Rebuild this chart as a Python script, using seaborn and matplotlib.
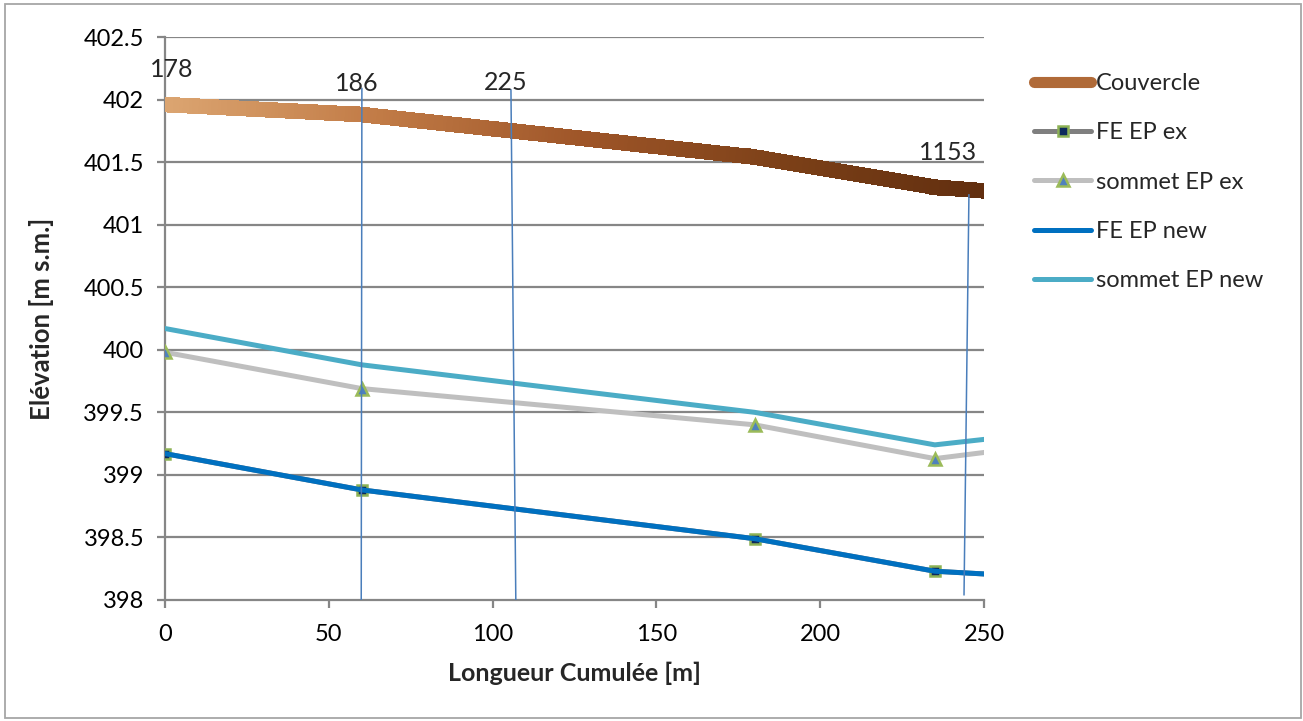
import numpy as np
import pandas as pd
import matplotlib
matplotlib.use('Agg')
import matplotlib.pyplot as plt
from matplotlib.collections import LineCollection
from matplotlib.colors import LinearSegmentedColormap
from matplotlib.lines import Line2D
from matplotlib.patches import Rectangle
import seaborn as sns

# cumulative length [m] of the profile points (last point lies past the axis end)
longueur = [0, 60, 180, 235, 290]

couvercle = [401.96, 401.88, 401.54, 401.30, 401.19]
fe_ep_ex = [399.17, 398.88, 398.49, 398.23, 398.15]
sommet_ep_ex = [399.98, 399.69, 399.40, 399.13, 399.31]
fe_ep_new = [399.17, 398.88, 398.49, 398.23, 398.15]
sommet_ep_new = [400.17, 399.88, 399.50, 399.24, 399.40]

series_names = ['Couvercle', 'FE EP ex', 'sommet EP ex', 'FE EP new', 'sommet EP new']

# manhole annotations: label, x at top, x at bottom, y at top
regard_labels = ['178', '186', '225', '1153']
regard_label_x = [2, 58.5, 104, 239]
regard_label_y = [402.24, 402.13, 402.14, 401.58]
regard_x_top = [None, 60.1, 105.6, 245.4]
regard_x_bot = [None, 59.9, 107.1, 243.9]
regard_y_top = [None, 402.09, 402.08, 401.24]
regard_y_bot = [None, 398.0, 397.96, 398.04]

yticks = [398, 398.5, 399, 399.5, 400, 400.5, 401, 401.5, 402, 402.5]
xticks = [0, 50, 100, 150, 200, 250]

sns.set_style('white')
plt.rcParams['font.family'] = ['Lato', 'DejaVu Sans']

W, H = 1303, 721
fig = plt.figure(figsize=(W / 100, H / 100), dpi=100)
ax = fig.add_axes([165 / W, 1 - 600 / H, (984 - 165) / W, (600 - 37) / H])

df = pd.DataFrame({'x': longueur, 'couv': couvercle, 'fe_ex': fe_ep_ex,
                   'som_ex': sommet_ep_ex, 'fe_new': fe_ep_new, 'som_new': sommet_ep_new})

grid_c = '#868686'
for yv in yticks[1:]:
    ax.axhline(yv, color=grid_c, lw=1.6, zorder=0)

# Couvercle: thick brown band with a light-to-dark gradient along x
sns.lineplot(data=df, x='x', y='couv', ax=ax, color='#A0592A', lw=10.5,
             solid_capstyle='butt', zorder=2)
xs = np.linspace(longueur[0], longueur[-1], 300)
ys = np.interp(xs, longueur, couvercle)
pts = np.column_stack([xs, ys]).reshape(-1, 1, 2)
segs = np.concatenate([pts[:-1], pts[1:]], axis=1)
cmap = LinearSegmentedColormap.from_list('couv', ['#DCA672', '#C27C47', '#9E5528', '#7A3F17', '#5E2C0E'])
lc = LineCollection(segs, cmap=cmap, norm=plt.Normalize(0, 260), lw=10.5,
                    capstyle='projecting', antialiased=False, zorder=3)
lc.set_array(xs[:-1])
ax.add_collection(lc)

# FE EP ex (hidden under FE EP new, markers visible)
sns.lineplot(data=df, x='x', y='fe_ex', ax=ax, color='#7F7F7F', lw=3.6,
             marker='s', markersize=7.5, markerfacecolor='#0D2A5C',
             markeredgecolor='#8DB255', markeredgewidth=1.8, zorder=4)
# sommet EP ex
sns.lineplot(data=df, x='x', y='som_ex', ax=ax, color='#BFBFBF', lw=3.6,
             marker='^', markersize=8, markerfacecolor='#4F81BD',
             markeredgecolor='#9BBB59', markeredgewidth=1.8, zorder=4)
# FE EP new
sns.lineplot(data=df, x='x', y='fe_new', ax=ax, color='#0070C0', lw=3.6, zorder=5)
# sommet EP new
sns.lineplot(data=df, x='x', y='som_new', ax=ax, color='#4BACC6', lw=3.6, zorder=5)

# manhole markers (hand drawn lines and labels)
for i, lab in enumerate(regard_labels):
    ax.text(regard_label_x[i], regard_label_y[i], lab, fontsize=18,
            ha='center', va='center', zorder=7, clip_on=False)
    if regard_x_top[i] is not None:
        ax.plot([regard_x_top[i], regard_x_bot[i]], [regard_y_top[i], regard_y_bot[i]],
                color='#4A7EBB', lw=1.1, zorder=6, clip_on=True)

ax.set_xlim(0, 250)
ax.set_ylim(398, 402.5)
ax.set_xticks(xticks)
ax.set_yticks(yticks)
ax.set_xticklabels([f'{v:g}' for v in xticks])
ax.set_yticklabels([f'{v:g}' for v in yticks])
ax.tick_params(axis='both', labelsize=17, colors=grid_c, labelcolor='black',
               length=6, width=1.6, direction='out', left=True, bottom=True)
ax.tick_params(axis='y', pad=9)
ax.tick_params(axis='x', pad=11)
for side in ['top', 'right']:
    ax.spines[side].set_visible(False)
for side in ['left', 'bottom']:
    ax.spines[side].set_color(grid_c)
    ax.spines[side].set_linewidth(1.6)
ax.set_xlabel('Longueur Cumulée [m]', fontsize=18, fontweight='bold', labelpad=12)
ax.set_ylabel('Elévation [m s.m.]', fontsize=18.5, fontweight='bold', labelpad=21)

handles = [
    Line2D([], [], color='#B06A38', lw=8, solid_capstyle='round'),
    Line2D([], [], color='#7F7F7F', lw=3.6, marker='s', markersize=7.5,
           markerfacecolor='#0D2A5C', markeredgecolor='#8DB255', markeredgewidth=1.8),
    Line2D([], [], color='#BFBFBF', lw=3.6, marker='^', markersize=8,
           markerfacecolor='#4F81BD', markeredgecolor='#9BBB59', markeredgewidth=1.8),
    Line2D([], [], color='#0070C0', lw=3.6, solid_capstyle='round'),
    Line2D([], [], color='#4BACC6', lw=3.6, solid_capstyle='round'),
]
fig.legend(handles, series_names, loc='upper left', bbox_to_anchor=(1034 / W, 1 - 73 / H),
           frameon=False, fontsize=17, handlelength=2.42, handletextpad=0.2,
           labelspacing=1.2, borderpad=0, borderaxespad=0)

fig.patches.append(Rectangle((5 / W, 3 / H), 1296 / W, 714 / H, transform=fig.transFigure,
                             fill=False, edgecolor='#A6A6A6', lw=1.3))

fig.savefig('out.png', dpi=100)
